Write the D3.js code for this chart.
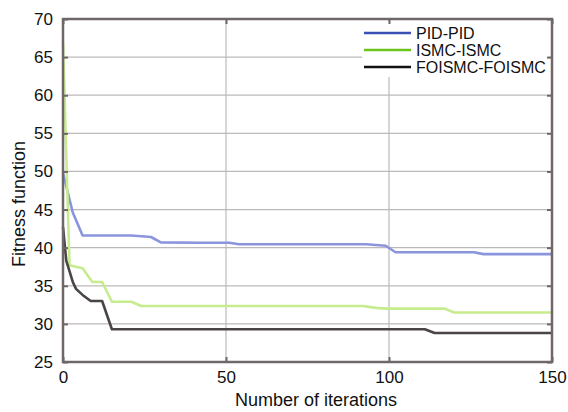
<!DOCTYPE html>
<html><head><meta charset="utf-8">
<script src="https://cdn.jsdelivr.net/npm/d3@7/dist/d3.min.js"></script>
<style>body{margin:0;background:#fff}svg{display:block;font-family:"Liberation Sans",Arial,sans-serif}</style>
</head><body><svg id="c" width="568" height="412"></svg>
<script>
const seriesNames = ["PID-PID", "ISMC-ISMC", "FOISMC-FOISMC"];
const pidIter = [0, 3, 6, 21, 27, 30, 42, 51, 54, 93, 99, 102, 126, 129, 150];
const pidVal  = [49.8, 44.6, 41.6, 41.6, 41.4, 40.7, 40.65, 40.65, 40.45, 40.45, 40.25, 39.4, 39.4, 39.15, 39.15];
const ismcIter = [0, 2, 6, 9, 12, 15, 21, 24, 92, 96, 99, 117, 120, 150];
const ismcVal  = [67.0, 37.7, 37.3, 35.5, 35.5, 32.9, 32.9, 32.35, 32.35, 32.1, 32.0, 32.0, 31.5, 31.5];
const foIter = [0, 1, 3, 4, 6, 8.5, 12, 15, 111, 114, 150];
const foVal  = [42.7, 38.3, 35.5, 34.6, 33.8, 33.0, 33.0, 29.3, 29.3, 28.8, 28.8];
const xTicks = [0, 50, 100, 150];
const yTicks = [25, 30, 35, 40, 45, 50, 55, 60, 65, 70];

const lineColors = ["#8a95dd", "#c6ec8e", "#4a4444"];
const legendColors = ["#3a50b4", "#6cc41c", "#111111"];

const svg = d3.select("#c");
const L = 63, R = 552, T = 19, B = 362;
const x = d3.scaleLinear().domain([0, 150]).range([L, R]);
const y = d3.scaleLinear().domain([25, 70]).range([B, T]);

// grid
const g = svg.append("g");
g.selectAll(".gx").data(xTicks.slice(1, -1)).join("line")
  .attr("x1", d => x(d)).attr("x2", d => x(d)).attr("y1", T).attr("y2", B)
  .attr("stroke", "#bdb9b9").attr("stroke-width", 1.2);
g.selectAll(".gy").data(yTicks.slice(1, -1)).join("line")
  .attr("x1", L).attr("x2", R).attr("y1", d => y(d)).attr("y2", d => y(d))
  .attr("stroke", "#bdb9b9").attr("stroke-width", 1.2);

// lines
const data = [
  pidIter.map((d, i) => [d, pidVal[i]]),
  ismcIter.map((d, i) => [d, ismcVal[i]]),
  foIter.map((d, i) => [d, foVal[i]])
];
const line = d3.line().x(d => x(d[0])).y(d => y(d[1]));
svg.selectAll(".ser").data(data).join("path")
  .attr("d", line).attr("fill", "none")
  .attr("stroke", (d, i) => lineColors[i]).attr("stroke-width", 2.6)
  .attr("stroke-linejoin", "round");

// legend (white box)
svg.append("rect").attr("x", 362).attr("y", 22).attr("width", 187).attr("height", 55).attr("fill", "#fff");
const lg = svg.append("g");
seriesNames.forEach((n, i) => {
  const yy = 33 + i * 17;
  lg.append("line").attr("x1", 364).attr("x2", 411).attr("y1", yy).attr("y2", yy)
    .attr("stroke", legendColors[i]).attr("stroke-width", 2.4);
  lg.append("text").attr("x", 416).attr("y", yy).attr("dy", "0.36em")
    .attr("font-size", 16).attr("fill", "#111").text(n);
});

// axes
const axColor = "#6f6767";
const ax = svg.append("g");
function styleAxis(sel) {
  sel.select(".domain").remove();
  sel.selectAll(".tick line").attr("stroke", axColor).attr("stroke-width", 2);
  sel.selectAll(".tick text").attr("font-size", 17).attr("fill", "#111").attr("font-family", "Liberation Sans, Arial, sans-serif");
}
ax.append("g").attr("transform", `translate(0,${B})`)
  .call(d3.axisBottom(x).tickValues(xTicks).tickSize(-5).tickPadding(9))
  .call(styleAxis);
ax.append("g").attr("transform", `translate(${L},0)`)
  .call(d3.axisLeft(y).tickValues(yTicks).tickSize(-5).tickPadding(10))
  .call(styleAxis);
ax.append("g").attr("transform", `translate(0,${T})`)
  .call(d3.axisTop(x).tickValues(xTicks).tickSize(-5).tickFormat(""))
  .call(styleAxis);
ax.append("g").attr("transform", `translate(${R},0)`)
  .call(d3.axisRight(y).tickValues(yTicks).tickSize(-5).tickFormat(""))
  .call(styleAxis);
svg.append("rect").attr("x", L).attr("y", T).attr("width", R - L).attr("height", B - T)
  .attr("fill", "none").attr("stroke", axColor).attr("stroke-width", 2.5);

// labels
svg.append("text").attr("x", 316).attr("y", 406).attr("text-anchor", "middle")
  .attr("font-size", 18).attr("fill", "#111").text("Number of iterations");
svg.append("text").attr("transform", "translate(25,204) rotate(-90)").attr("text-anchor", "middle")
  .attr("font-size", 18).attr("fill", "#111").text("Fitness function");
</script></body></html>
